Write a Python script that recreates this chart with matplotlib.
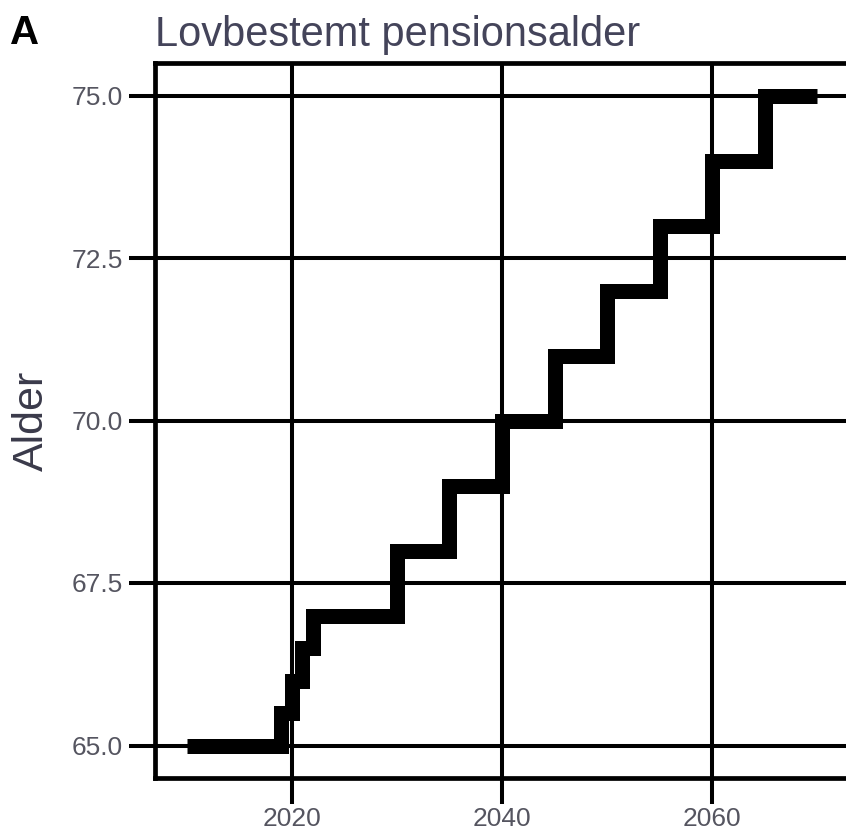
import matplotlib
matplotlib.use("Agg")
import matplotlib.pyplot as plt
from matplotlib.ticker import FormatStrFormatter

plt.rcParams['font.family'] = ['Liberation Sans', 'DejaVu Sans']

years = [2010, 2019, 2020, 2021, 2022, 2030, 2035, 2040, 2045, 2050, 2055, 2060, 2065, 2070]
ages = [65, 65.5, 66, 66.5, 67, 68, 69, 70, 71, 72, 73, 74, 75, 75]
x_ticks = [2020, 2040, 2060]
y_ticks = [65.0, 67.5, 70.0, 72.5, 75.0]

W, H = 846, 833
fig = plt.figure(figsize=(W / 100, H / 100), dpi=100)
left, right, top, bottom = 155, 849, 63, 778
ax = fig.add_axes([left / W, 1 - bottom / H, (right - left) / W, (bottom - top) / H])

ax.plot(years, ages, drawstyle='steps-post', color='black', lw=10.8,
        solid_joinstyle='miter', solid_capstyle='butt', zorder=3)

ax.set_xlim(2007, 2073)
ax.set_ylim(64.5, 75.5)
ax.set_xticks(x_ticks)
ax.set_yticks(y_ticks)
ax.yaxis.set_major_formatter(FormatStrFormatter('%.1f'))
ax.grid(True, color='black', lw=2.9, zorder=1)
ax.set_axisbelow(True)
for s in ['left', 'bottom', 'top']:
    ax.spines[s].set_linewidth(3.4)
    ax.spines[s].set_color('black')
ax.spines['right'].set_visible(False)
ax.tick_params(axis='both', length=19, width=2.9, color='black',
               labelsize=19, labelcolor='#555560', pad=4)
ax.tick_params(axis='x', pad=2)

ax.set_ylabel('Alder', fontsize=31, color='#3a3a4a', labelpad=14)
fig.text(155 / W, 1 - 46 / H, 'Lovbestemt pensionsalder', fontsize=30,
         color='#44445a', ha='left', va='baseline')
fig.text(10 / W, 1 - 44 / H, 'A', fontsize=29, color='black', fontweight='bold',
         ha='left', va='baseline')

fig.savefig('out.png', dpi=100)
